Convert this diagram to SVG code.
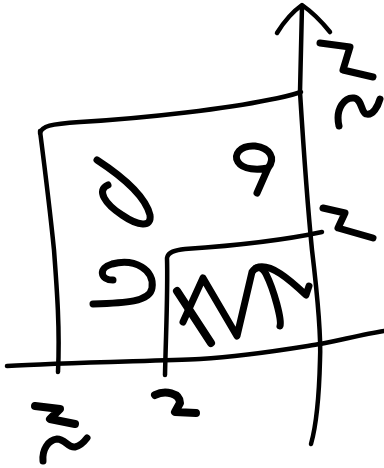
<svg xmlns="http://www.w3.org/2000/svg" width="384" height="468" viewBox="0 0 384 468">
<style>
.l{fill:none;stroke:#000;stroke-width:4.5;stroke-linecap:round;stroke-linejoin:round}
.m{fill:none;stroke:#000;stroke-width:7;stroke-linecap:round;stroke-linejoin:round}
</style>
<rect width="384" height="468" fill="#fff"/>
<g id="axes">
<path class="l" d="M7,366 C60,363 150,361 200,359 C250,356 300,347 320,344 C345,339 365,334 384,331"/>
<path class="l" d="M302,6 L300,92 C303,140 307,200 312,250 C318,300 321,340 320,360 C319,400 315,430 311,444"/>
<path class="l" d="M277,33 C285,20 295,10 302,5 C312,12 322,22 330,32"/>
</g>
<g id="outer-box">
<path class="l" d="M40,133 C42,126 50,124 80,122 C150,118 230,108 268,100 C285,97 295,94 301,92"/>
<path class="l" d="M40,131 C45,170 50,210 54,250 C57,290 60,330 58,372"/>
</g>
<g id="inner-box">
<path class="l" d="M165,375 C166,330 168,290 167,258 C168,252 175,250 185,249 C230,246 280,241 322,232"/>
<path class="m" d="M177,291 L211,343" style="stroke-width:8"/>
<path class="m" d="M183,322 L203,278 L237,336 L252,272 C256,266 262,266 266,274 C274,290 282,320 280,326"/>
<path class="m" d="M256,268 C270,262 290,280 306,295 L309,286"/>
</g>
<g id="marks">
<path class="m" d="M320,43 L350,47 L343,70 L373,77"/>
<path class="m" d="M339,126 C335,108 345,97 354,98 C362,99 361,112 366,114 C373,116 378,106 380,99"/>
<path class="m" d="M97,160 C120,175 145,195 150,215 C152,228 138,226 122,215 C105,204 96,190 108,185"/>
<path class="m" d="M257,193 L268,168 C276,158 270,148 255,146 C240,145 233,155 238,162 C243,170 258,170 268,168"/>
<path class="m" d="M323,208 L345,213 L338,228 L373,238"/>
<path class="m" d="M113,280 C100,280 98,268 112,264 C135,258 155,270 152,288 C150,302 125,303 93,304"/>
<path class="m" d="M35,406 L60,409 L50,419 L75,424" style="stroke-width:8"/>
<path class="m" d="M43,461 C42,450 48,440 57,439 C65,439 68,448 75,447 C80,446 84,442 87,438"/>
<path class="m" d="M155,395 C165,390 180,393 180,403 L175,412 L196,413" style="stroke-width:8"/>
</g>
</svg>
